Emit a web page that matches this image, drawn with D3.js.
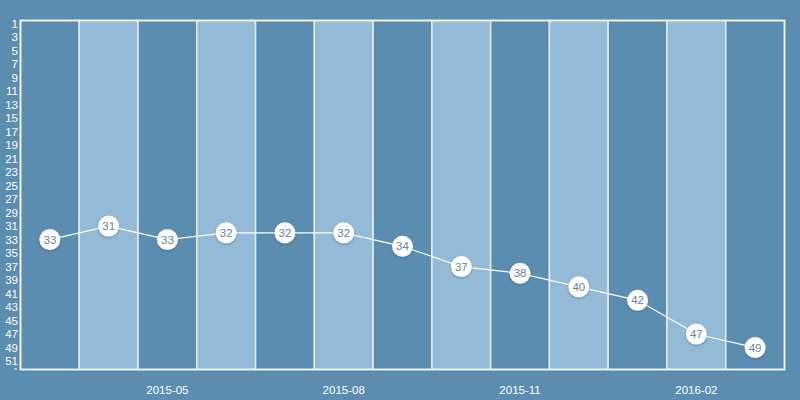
<!DOCTYPE html>
<html><head><meta charset="utf-8">
<script src="https://cdn.jsdelivr.net/npm/d3@7"></script>
<style>body{margin:0;background:#5b8db1;} svg{display:block;font-family:"Liberation Sans",Arial,sans-serif;}</style>
</head><body><svg id="c" width="800" height="400"></svg>
<script>
const months = ["2015-03","2015-04","2015-05","2015-06","2015-07","2015-08","2015-09","2015-10","2015-11","2015-12","2016-01","2016-02","2016-03"];
const ranks = [33,31,33,32,32,32,34,37,38,40,42,47,49];
const xTickLabels = ["2015-05","2015-08","2015-11","2016-02"];
const yTicks = d3.range(1,52,2);

const W=800,H=400, L=20.5, R=784.5, T=20.5, B=369.5;
const svg=d3.select("#c");
svg.append("rect").attr("width",W).attr("height",H).attr("fill","#5b8db1");
const x=d3.scaleBand().domain(months).range([L,R]).padding(0);
const y=d3.scaleLinear().domain([0.55,52.25]).range([T,B]);

svg.append("g").selectAll("rect").data(months).join("rect")
  .attr("x",d=>x(d)).attr("y",T).attr("width",x.bandwidth()).attr("height",B-T)
  .attr("fill",(d,i)=>i%2?"#93bad7":"#5b8db1")
  .attr("stroke","rgba(235,243,250,0.9)").attr("stroke-width",1.5);

svg.append("rect").attr("x",L).attr("y",T).attr("width",R-L).attr("height",B-T)
  .attr("fill","none").attr("stroke","#fff").attr("stroke-width",1.5);

svg.append("g").selectAll("text").data(yTicks).join("text")
  .attr("x",18).attr("y",d=>y(d)).attr("dy","0.38em").attr("text-anchor","end")
  .attr("fill","#fff").attr("font-size",11.5).text(d=>d);
svg.append("line").attr("x1",14).attr("x2",17).attr("y1",369).attr("y2",369).attr("stroke","#fff").attr("stroke-width",1);

svg.append("g").selectAll("text").data(xTickLabels).join("text")
  .attr("x",d=>x(d)+x.bandwidth()/2).attr("y",390).attr("dy","0.35em").attr("text-anchor","middle")
  .attr("fill","#fff").attr("font-size",11.5).text(d=>d);

const cx=d=>x(d)+x.bandwidth()/2;
const pts=months.map((m,i)=>({m,v:ranks[i]}));
svg.append("path").datum(pts).attr("fill","none").attr("stroke","#fff").attr("stroke-width",1.2)
  .attr("d",d3.line().x(d=>cx(d.m)).y(d=>y(d.v)));

const defs=svg.append("defs");
const f=defs.append("filter").attr("id","sh").attr("x","-50%").attr("y","-50%").attr("width","200%").attr("height","200%");
f.append("feDropShadow").attr("dx",0).attr("dy",1).attr("stdDeviation",1.2).attr("flood-color","#2a4a63").attr("flood-opacity",0.45);

const g=svg.append("g").selectAll("g").data(pts).join("g").attr("transform",d=>`translate(${cx(d.m)},${y(d.v)})`);
g.append("circle").attr("r",10.5).attr("fill","#fff").attr("filter","url(#sh)");
g.append("text").attr("text-anchor","middle").attr("dy","0.36em").attr("font-size",11.5).attr("fill","#66819a").text(d=>d.v);
</script></body></html>
